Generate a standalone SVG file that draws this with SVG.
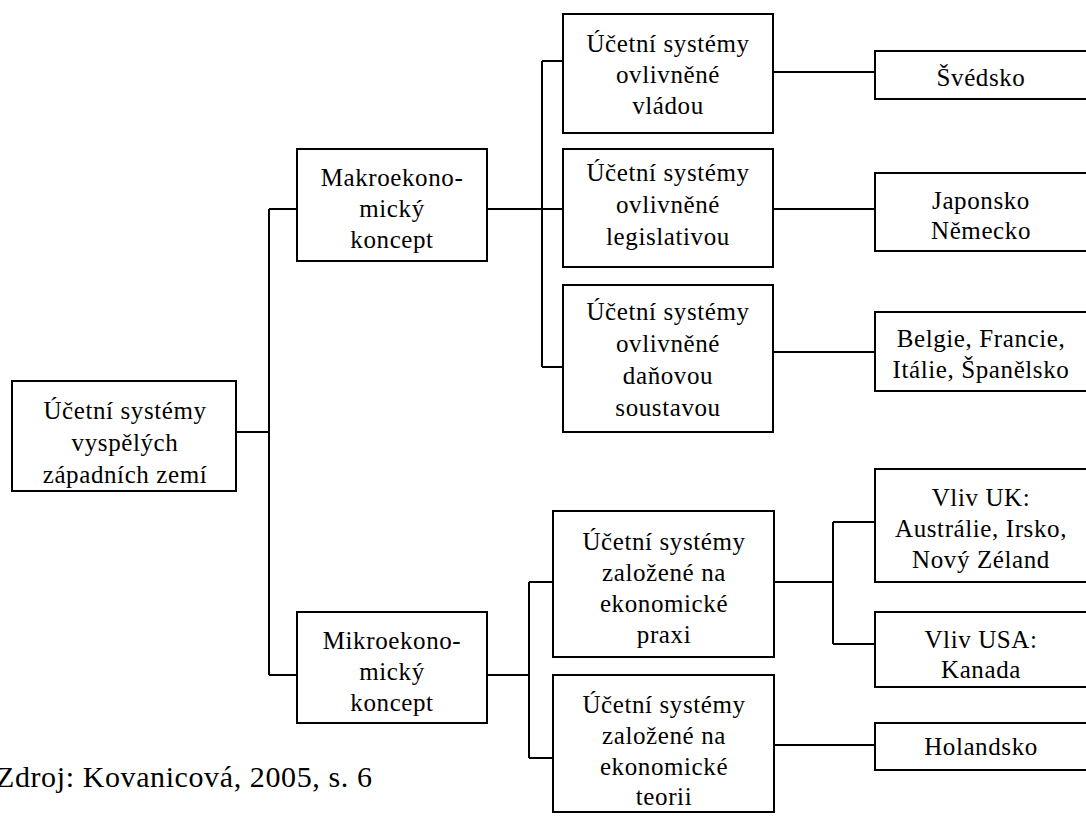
<svg xmlns="http://www.w3.org/2000/svg" width="1086" height="816" viewBox="0 0 1086 816">
<style>
.box{fill:#fff;stroke:#000;stroke-width:2}
.t{font-size:25px;letter-spacing:0.6px;text-anchor:middle;fill:#000}
.c{fill:none;stroke:#000;stroke-width:2}
.src{font-size:30px;letter-spacing:0.6px;fill:#000}
</style>
<rect width="1086" height="816" fill="#fff"/>
<g id="connectors" class="c">
<path d="M236 432H269M269 209V675M269 209H297M269 675H297"/>
<path d="M487 209H563M542 61V367M542 61H563M542 367H563"/>
<path d="M773 72H875M773 209H875M773 352H875"/>
<path d="M487 675H529M529 582V758M529 582H553M529 758H553"/>
<path d="M774 582H833M833 522V644M833 522H875M833 644H875M774 745H875"/>
</g>
<g font-family="'Liberation Serif', 'DejaVu Serif', 'Times New Roman', serif">
<g id="root">
<rect class="box" x="12" y="381" width="224" height="110"/>
<text class="t" x="125" y="419">Účetní systémy</text>
<text class="t" x="125" y="451">vyspělých</text>
<text class="t" x="125" y="483">západních zemí</text>
</g>
<g id="makro">
<rect class="box" x="297" y="149" width="190" height="112"/>
<text class="t" x="392" y="186">Makroekono-</text>
<text class="t" x="392" y="217">mický</text>
<text class="t" x="392" y="248">koncept</text>
</g>
<g id="mikro">
<rect class="box" x="297" y="612" width="190" height="111"/>
<text class="t" x="392" y="649">Mikroekono-</text>
<text class="t" x="392" y="680">mický</text>
<text class="t" x="392" y="711">koncept</text>
</g>
<g id="vlada">
<rect class="box" x="563" y="14" width="210" height="119"/>
<text class="t" x="668" y="52">Účetní systémy</text>
<text class="t" x="668" y="83">ovlivněné</text>
<text class="t" x="668" y="114">vládou</text>
</g>
<g id="legislativa">
<rect class="box" x="563" y="149" width="210" height="118"/>
<text class="t" x="668" y="181">Účetní systémy</text>
<text class="t" x="668" y="213">ovlivněné</text>
<text class="t" x="668" y="245">legislativou</text>
</g>
<g id="dane">
<rect class="box" x="563" y="285" width="210" height="147"/>
<text class="t" x="668" y="320">Účetní systémy</text>
<text class="t" x="668" y="352">ovlivněné</text>
<text class="t" x="668" y="384">daňovou</text>
<text class="t" x="668" y="416">soustavou</text>
</g>
<g id="praxe">
<rect class="box" x="553" y="511" width="221" height="146"/>
<text class="t" x="664" y="550">Účetní systémy</text>
<text class="t" x="664" y="581">založené na</text>
<text class="t" x="664" y="612">ekonomické</text>
<text class="t" x="664" y="643">praxi</text>
</g>
<g id="teorie">
<rect class="box" x="553" y="675" width="221" height="137"/>
<text class="t" x="664" y="713">Účetní systémy</text>
<text class="t" x="664" y="744">založené na</text>
<text class="t" x="664" y="775">ekonomické</text>
<text class="t" x="664" y="805">teorii</text>
</g>
<g id="svedsko">
<rect class="box" x="875" y="51" width="213" height="48"/>
<text class="t" x="981" y="86">Švédsko</text>
</g>
<g id="japonsko">
<rect class="box" x="875" y="173" width="213" height="78"/>
<text class="t" x="981" y="209">Japonsko</text>
<text class="t" x="981" y="239">Německo</text>
</g>
<g id="belgie">
<rect class="box" x="875" y="312" width="213" height="79"/>
<text class="t" x="981" y="347">Belgie, Francie,</text>
<text class="t" x="981" y="378">Itálie, Španělsko</text>
</g>
<g id="uk">
<rect class="box" x="875" y="469" width="213" height="113"/>
<text class="t" x="981" y="506">Vliv UK:</text>
<text class="t" x="981" y="537">Austrálie, Irsko,</text>
<text class="t" x="981" y="568">Nový Zéland</text>
</g>
<g id="usa">
<rect class="box" x="875" y="612" width="213" height="75"/>
<text class="t" x="981" y="648">Vliv USA:</text>
<text class="t" x="981" y="678">Kanada</text>
</g>
<g id="holandsko">
<rect class="box" x="875" y="723" width="213" height="47"/>
<text class="t" x="981" y="755">Holandsko</text>
</g>
<text class="src" x="-4" y="787">Zdroj: Kovanicová, 2005, s. 6</text>
</g>
</svg>
